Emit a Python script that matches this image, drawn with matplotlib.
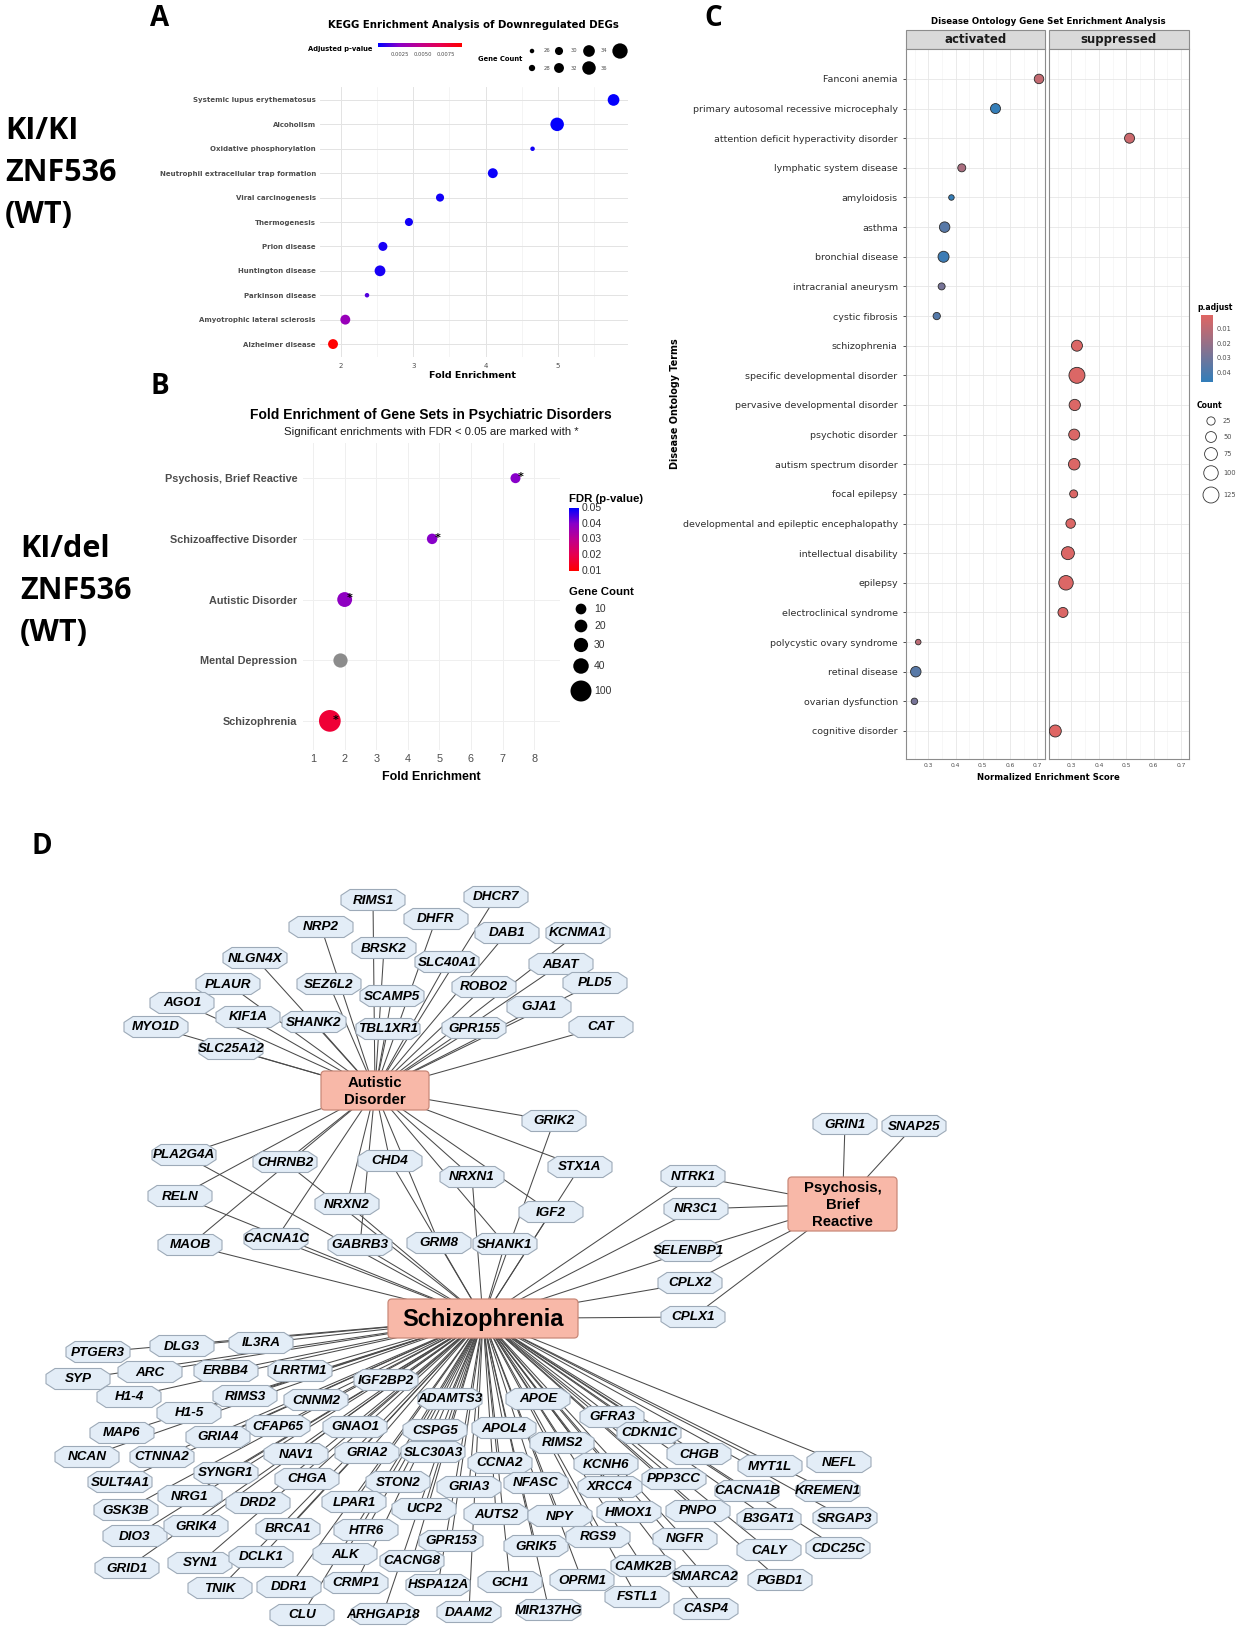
import numpy as np
import matplotlib
matplotlib.use("Agg")
import matplotlib.pyplot as plt
from matplotlib.colors import LinearSegmentedColormap
from matplotlib.patches import Polygon, Rectangle, FancyBboxPatch
from matplotlib.collections import LineCollection
from matplotlib.ticker import MultipleLocator

W, H = 1243, 1637

# ---------------- data ----------------
# A: KEGG enrichment (top to bottom)
kegg_terms = ["Systemic lupus erythematosus", "Alcoholism", "Oxidative phosphorylation",
              "Neutrophil extracellular trap formation", "Viral carcinogenesis", "Thermogenesis",
              "Prion disease", "Huntington disease", "Parkinson disease",
              "Amyotrophic lateral sclerosis", "Alzheimer disease"]
kegg_fold = [5.77, 4.99, 4.65, 4.10, 3.37, 2.94, 2.58, 2.54, 2.36, 2.06, 1.89]
kegg_count = [34, 36, 26, 32, 30, 30, 31, 33, 26, 32, 32]
kegg_padj = [0.0002, 0.0002, 0.0004, 0.0003, 0.0004, 0.0004, 0.0005, 0.0005, 0.0015, 0.0030, 0.0093]
kegg_legend_counts = [26, 28, 30, 32, 34, 36]
kegg_cbar_ticks = [0.0025, 0.0050, 0.0075]

# B: psychiatric disorders (top to bottom)
psy_terms = ["Psychosis, Brief Reactive", "Schizoaffective Disorder", "Autistic Disorder",
             "Mental Depression", "Schizophrenia"]
psy_fold = [7.41, 4.77, 2.00, 1.86, 1.53]
psy_count = [7, 9, 35, 30, 110]
psy_fdr = [0.040, 0.040, 0.039, np.nan, 0.017]
psy_sig = [True, True, True, False, True]
psy_legend_counts = [10, 20, 30, 40, 100]
psy_cbar_ticks = [0.05, 0.04, 0.03, 0.02, 0.01]

# C: Disease Ontology GSEA (top to bottom)
do_terms = ["Fanconi anemia", "primary autosomal recessive microcephaly",
            "attention deficit hyperactivity disorder", "lymphatic system disease", "amyloidosis",
            "asthma", "bronchial disease", "intracranial aneurysm", "cystic fibrosis", "schizophrenia",
            "specific developmental disorder", "pervasive developmental disorder", "psychotic disorder",
            "autism spectrum disorder", "focal epilepsy", "developmental and epileptic encephalopathy",
            "intellectual disability", "epilepsy", "electroclinical syndrome",
            "polycystic ovary syndrome", "retinal disease", "ovarian dysfunction", "cognitive disorder"]
do_group = ["activated", "activated", "suppressed", "activated", "activated", "activated",
            "activated", "activated", "activated", "suppressed", "suppressed", "suppressed",
            "suppressed", "suppressed", "suppressed", "suppressed", "suppressed", "suppressed",
            "suppressed", "activated", "activated", "activated", "suppressed"]
do_nes = [0.707, 0.547, 0.512, 0.423, 0.385, 0.360, 0.356, 0.349, 0.331, 0.320, 0.320, 0.312,
          0.310, 0.310, 0.308, 0.297, 0.287, 0.280, 0.269, 0.263, 0.254, 0.249, 0.241]
do_count = [36, 41, 41, 23, 8, 46, 52, 16, 18, 52, 125, 55, 52, 58, 23, 36, 77, 100, 41, 8, 46, 13, 64]
do_padj = [0.008, 0.045, 0.006, 0.015, 0.045, 0.036, 0.043, 0.028, 0.037, 0.002, 0.002, 0.002,
           0.002, 0.002, 0.002, 0.002, 0.002, 0.002, 0.002, 0.010, 0.036, 0.028, 0.001]
do_legend_counts = [25, 50, 75, 100, 125]
do_cbar_ticks = [0.01, 0.02, 0.03, 0.04]

# D: gene-disease network
autism_only = ["RIMS1", "DHCR7", "NRP2", "DHFR", "DAB1", "KCNMA1", "BRSK2", "NLGN4X", "SLC40A1",
               "ABAT", "PLAUR", "SEZ6L2", "SCAMP5", "ROBO2", "PLD5", "AGO1", "KIF1A", "SHANK2",
               "TBL1XR1", "GPR155", "GJA1", "CAT", "MYO1D", "SLC25A12"]
autism_scz = ["GRIK2", "PLA2G4A", "CHRNB2", "CHD4", "STX1A", "NRXN1", "RELN", "NRXN2", "IGF2",
              "MAOB", "CACNA1C", "GABRB3", "GRM8", "SHANK1"]
psych_only = ["GRIN1", "SNAP25"]
psych_scz = ["NTRK1", "NR3C1", "SELENBP1", "CPLX2", "CPLX1"]
scz_only = ["PTGER3", "DLG3", "IL3RA", "SYP", "ARC", "ERBB4", "LRRTM1", "IGF2BP2", "H1-4", "RIMS3",
            "CNNM2", "ADAMTS3", "APOE", "H1-5", "GFRA3", "MAP6", "CFAP65", "GNAO1", "CSPG5", "APOL4",
            "GRIA4", "RIMS2", "CDKN1C", "NCAN", "CTNNA2", "NAV1", "GRIA2", "SLC30A3", "CCNA2",
            "KCNH6", "CHGB", "MYT1L", "NEFL", "SULT4A1", "SYNGR1", "CHGA", "STON2", "GRIA3",
            "NFASC", "XRCC4", "PPP3CC", "CACNA1B", "KREMEN1", "GSK3B", "NRG1", "DRD2", "LPAR1",
            "UCP2", "AUTS2", "NPY", "HMOX1", "PNPO", "B3GAT1", "SRGAP3", "DIO3", "GRIK4", "BRCA1",
            "HTR6", "GPR153", "GRIK5", "RGS9", "NGFR", "CALY", "CDC25C", "GRID1", "SYN1", "DCLK1",
            "ALK", "CACNG8", "CAMK2B", "SMARCA2", "PGBD1", "TNIK", "DDR1", "CRMP1", "HSPA12A",
            "GCH1", "OPRM1", "FSTL1", "CASP4", "CLU", "ARHGAP18", "DAAM2", "MIR137HG"]

# ---------------- layout (pixel positions of the network drawing) ----------------
hub_box = {"Autistic\nDisorder": (321, 1071, 429, 1110),
           "Psychosis,\nBrief\nReactive": (788, 1177, 897, 1231),
           "Schizophrenia": (388, 1299, 578, 1338)}
node_xy = {
    "RIMS1": (373, 900), "DHCR7": (496, 897), "NRP2": (321, 927), "DHFR": (436, 919),
    "DAB1": (507, 933), "KCNMA1": (578, 933), "BRSK2": (384, 948), "NLGN4X": (255, 958),
    "SLC40A1": (447, 962), "ABAT": (561, 964), "PLAUR": (228, 984), "SEZ6L2": (329, 984),
    "SCAMP5": (392, 996), "ROBO2": (484, 987), "PLD5": (595, 983), "AGO1": (182, 1003),
    "KIF1A": (248, 1017), "SHANK2": (314, 1022), "TBL1XR1": (388, 1029), "GPR155": (474, 1028),
    "GJA1": (539, 1007), "CAT": (601, 1027), "MYO1D": (156, 1027), "SLC25A12": (231, 1049),
    "GRIK2": (554, 1121), "PLA2G4A": (184, 1155), "CHRNB2": (285, 1162), "CHD4": (390, 1161),
    "STX1A": (580, 1167), "NRXN1": (472, 1177), "RELN": (180, 1196), "NRXN2": (347, 1204),
    "IGF2": (551, 1212), "MAOB": (190, 1245), "CACNA1C": (276, 1239), "GABRB3": (360, 1245),
    "GRM8": (439, 1243), "SHANK1": (505, 1244),
    "GRIN1": (845, 1124), "SNAP25": (914, 1126),
    "NTRK1": (693, 1176), "NR3C1": (696, 1209), "SELENBP1": (688, 1251), "CPLX2": (690, 1283),
    "CPLX1": (693, 1317),
    "PTGER3": (98, 1352), "DLG3": (182, 1346), "IL3RA": (261, 1343), "SYP": (78, 1379),
    "ARC": (150, 1372), "ERBB4": (226, 1371), "LRRTM1": (300, 1371), "IGF2BP2": (386, 1380),
    "H1-4": (129, 1397), "RIMS3": (245, 1396), "CNNM2": (316, 1400), "ADAMTS3": (450, 1399),
    "APOE": (538, 1399), "H1-5": (189, 1413), "GFRA3": (612, 1417), "MAP6": (122, 1433),
    "CFAP65": (278, 1426), "GNAO1": (355, 1427), "CSPG5": (435, 1430), "APOL4": (504, 1428),
    "GRIA4": (218, 1437), "RIMS2": (562, 1443), "CDKN1C": (649, 1433), "NCAN": (87, 1457),
    "CTNNA2": (162, 1457), "NAV1": (296, 1454), "GRIA2": (367, 1453), "SLC30A3": (433, 1452),
    "CCNA2": (500, 1463), "KCNH6": (606, 1464), "CHGB": (699, 1454), "MYT1L": (770, 1466),
    "NEFL": (839, 1462), "SULT4A1": (120, 1482), "SYNGR1": (226, 1473), "CHGA": (307, 1479),
    "STON2": (398, 1482), "GRIA3": (469, 1487), "NFASC": (536, 1483), "XRCC4": (610, 1487),
    "PPP3CC": (674, 1479), "CACNA1B": (747, 1491), "KREMEN1": (828, 1491), "GSK3B": (126, 1510),
    "NRG1": (190, 1496), "DRD2": (258, 1503), "LPAR1": (354, 1502), "UCP2": (424, 1509),
    "AUTS2": (496, 1514), "NPY": (560, 1516), "HMOX1": (629, 1512), "PNPO": (698, 1511),
    "B3GAT1": (769, 1519), "SRGAP3": (845, 1518), "DIO3": (135, 1536), "GRIK4": (196, 1526),
    "BRCA1": (288, 1529), "HTR6": (366, 1530), "GPR153": (451, 1541), "GRIK5": (536, 1546),
    "RGS9": (598, 1537), "NGFR": (685, 1539), "CALY": (769, 1550), "CDC25C": (838, 1548),
    "GRID1": (127, 1568), "SYN1": (200, 1563), "DCLK1": (261, 1557), "ALK": (345, 1554),
    "CACNG8": (412, 1561), "CAMK2B": (643, 1566), "SMARCA2": (705, 1576), "PGBD1": (780, 1580),
    "TNIK": (220, 1588), "DDR1": (289, 1587), "CRMP1": (356, 1583), "HSPA12A": (438, 1585),
    "GCH1": (510, 1582), "OPRM1": (582, 1580), "FSTL1": (637, 1597), "CASP4": (706, 1609),
    "CLU": (302, 1615), "ARHGAP18": (383, 1614), "DAAM2": (469, 1612), "MIR137HG": (549, 1610),
}

# ---------------- helpers ----------------
cmap_br = LinearSegmentedColormap.from_list(
    "br", ["#0000FF", "#8A00C8", "#C0008E", "#E8004E", "#FF0000"])
cmap_do = LinearSegmentedColormap.from_list("do", ["#e06663", "#327eba"])


def place(x0, y0, x1, y1):
    return fig.add_axes([x0 / W, 1 - y1 / H, (x1 - x0) / W, (y1 - y0) / H])


def px_to_s(d):
    return (np.asarray(d, dtype=float) * 0.72) ** 2


def size_a(c):
    return px_to_s(4.5 + (np.asarray(c) - 26) * 0.9)


def size_b(c):
    return px_to_s(6 + 1.5 * np.sqrt(c))


def size_c(c):
    return px_to_s(2 + 1.25 * np.sqrt(c))


def octagon(cx, cy, w=64, h=21, c=9):
    hw, hh, q = w / 2, h / 2, h * 0.22
    return [(cx - hw + c, cy - hh), (cx + hw - c, cy - hh), (cx + hw, cy - q), (cx + hw, cy + q),
            (cx + hw - c, cy + hh), (cx - hw + c, cy + hh), (cx - hw, cy + q), (cx - hw, cy - q)]


fig = plt.figure(figsize=(W / 100, H / 100), dpi=100)
ov = fig.add_axes([0, 0, 1, 1])
ov.axis("off")

BIG = ["Open Sans", "DejaVu Sans"]
ARIAL = ["Liberation Sans", "DejaVu Sans"]

# panel letters and genotype labels
for lab, (x, y) in {"A": (160, 18), "B": (160, 386), "C": (713, 18), "D": (42, 847)}.items():
    ov.text(x, y, lab, fontsize=20, fontweight="bold", family=BIG, ha="center", va="center")
for i, line in enumerate(["KI/KI", "ZNF536", "(WT)"]):
    ov.text(5, 131 + i * 42, line, fontsize=22, fontweight="bold", family=BIG, va="center")
for i, line in enumerate(["KI/del", "ZNF536", "(WT)"]):
    ov.text(20, 549 + i * 42, line, fontsize=22, fontweight="bold", family=BIG, va="center")

# ---------------- panel A ----------------
ax = place(320, 87, 628, 357)
ya = np.arange(len(kegg_terms))[::-1] + 1
a_vmin, a_vmax = 0.0001, 0.0093
ax.scatter(kegg_fold, ya, s=size_a(kegg_count), c=kegg_padj, cmap=cmap_br,
           vmin=a_vmin, vmax=a_vmax, linewidths=0, zorder=3)
ax.set_xlim(1.71, 5.97)
ax.set_ylim(0.47, 11.53)
ax.set_yticks(ya)
ax.set_yticklabels(kegg_terms, fontsize=7.5, fontweight="bold", color="#4D4D4D")
ax.set_xticks([2, 3, 4, 5])
ax.xaxis.set_minor_locator(MultipleLocator(0.5))
ax.tick_params(which="both", length=0, labelsize=5, colors="#4D4D4D")
ax.tick_params(axis="y", pad=3)
ax.tick_params(axis="x", pad=4)
ax.grid(True, which="major", color="#E3E3E3", lw=0.7)
ax.grid(True, which="minor", axis="x", color="#F0F0F0", lw=0.5)
ax.set_axisbelow(True)
for s in ax.spines.values():
    s.set_visible(False)
ov.text(473, 25, "KEGG Enrichment Analysis of Downregulated DEGs", fontsize=7.3,
        fontweight="bold", ha="center", va="center")
ov.text(473, 376, "Fold Enrichment", fontsize=6.8, fontweight="bold", ha="center", va="center")
ov.text(308, 49, "Adjusted p-value", fontsize=4.9, fontweight="bold", va="center")
ov.imshow(np.linspace(0, 1, 256)[None, :], extent=(378, 462, 47.5, 43.5), cmap=cmap_br,
          aspect="auto", zorder=2)
for t in kegg_cbar_ticks:
    ov.text(378 + (t - a_vmin) / (a_vmax - a_vmin) * 84, 54, f"{t:.4f}", fontsize=3.8,
            color="#4D4D4D", ha="center", va="center")
ov.text(500, 59, "Gene Count", fontsize=4.9, fontweight="bold", ha="center", va="center")
leg_x = [532, 532, 559, 559, 589, 589]
leg_y = [51, 68, 51, 68, 51, 68]
ov.scatter(leg_x + [620], leg_y + [51], s=size_a(kegg_legend_counts + [38]), c="black",
           linewidths=0, zorder=3)
for c, x, y in zip(kegg_legend_counts, leg_x, leg_y):
    ov.text(x + 12, y, str(c), fontsize=3.8, color="#4D4D4D", va="center")

# ---------------- panel B ----------------
ax = place(303, 443, 560, 750)
yb = np.arange(len(psy_terms))[::-1] + 1
fdr = np.array(psy_fdr)
ok = ~np.isnan(fdr)
ax.scatter(np.array(psy_fold)[ok], yb[ok], s=size_b(np.array(psy_count)[ok]), c=fdr[ok],
           cmap=cmap_br.reversed(), vmin=0.01, vmax=0.05, linewidths=0, zorder=3)
ax.scatter(np.array(psy_fold)[~ok], yb[~ok], s=size_b(np.array(psy_count)[~ok]), c="#8C8C8C",
           linewidths=0, zorder=3)
for f, y, sig in zip(psy_fold, yb, psy_sig):
    if sig:
        ax.text(f + 0.17, y + 0.02, "*", fontsize=8, fontweight="bold", ha="center",
                va="center", zorder=4)
ax.set_xlim(0.68, 8.82)
ax.set_ylim(0.52, 5.58)
ax.set_yticks(yb)
ax.set_yticklabels(psy_terms, fontsize=8, fontweight="bold", color="#4D4D4D", family=ARIAL)
ax.set_xticks(range(1, 9))
for lab in ax.get_xticklabels():
    lab.set_family(ARIAL)
ax.tick_params(length=0, labelsize=7.8, colors="#4D4D4D")
ax.tick_params(axis="y", pad=4)
ax.tick_params(axis="x", pad=3)
ax.grid(True, color="#EFEFEF", lw=0.7)
ax.set_axisbelow(True)
for s in ax.spines.values():
    s.set_visible(False)
ov.text(431, 415, "Fold Enrichment of Gene Sets in Psychiatric Disorders", fontsize=10,
        fontweight="bold", family=ARIAL, ha="center", va="center")
ov.text(431, 432, "Significant enrichments with FDR < 0.05 are marked with *", fontsize=8.2,
        family=ARIAL, ha="center", va="center", color="#1A1A1A")
ov.text(431, 777, "Fold Enrichment", fontsize=9, fontweight="bold", family=ARIAL,
        ha="center", va="center")
ov.text(569, 499, "FDR (p-value)", fontsize=8.2, fontweight="bold", family=ARIAL, va="center")
ov.imshow(np.linspace(0.05, 0.01, 256)[:, None], extent=(569, 579, 571, 508),
          cmap=cmap_br.reversed(), vmin=0.01, vmax=0.05, aspect="auto", zorder=2)
for t in psy_cbar_ticks:
    ov.text(582, 508 + (0.05 - t) / 0.04 * 63, f"{t:.2f}", fontsize=7.5, family=ARIAL,
            color="#333333", va="center")
ov.text(569, 592, "Gene Count", fontsize=8.2, fontweight="bold", family=ARIAL, va="center")
gy = [609, 626, 645, 666, 691]
ov.scatter([581] * len(gy), gy, s=size_b(psy_legend_counts), c="black", linewidths=0, zorder=3)
for c, y in zip(psy_legend_counts, gy):
    ov.text(594, y, str(c), fontsize=7.5, family=ARIAL, color="#333333", va="center")

# ---------------- panel C ----------------
n_do = len(do_terms)
yc = np.arange(n_do)[::-1] + 1
grp = np.array(do_group)
c_vmin, c_vmax = 0.0005, 0.046
boxes = {"activated": (906, 1045), "suppressed": (1049, 1189)}
for k, name in enumerate(["activated", "suppressed"]):
    x0, x1 = boxes[name]
    ax = place(x0, 49, x1, 759)
    m = grp == name
    ax.scatter(np.array(do_nes)[m], yc[m], s=size_c(np.array(do_count)[m]),
               c=np.array(do_padj)[m], cmap=cmap_do, vmin=c_vmin, vmax=c_vmax,
               edgecolors="#2B2B2B", linewidths=0.6, zorder=3)
    ax.set_xlim(0.218, 0.729)
    ax.set_ylim(0.055, n_do + 1.01)
    ax.set_xticks([0.3, 0.4, 0.5, 0.6, 0.7])
    ax.xaxis.set_minor_locator(MultipleLocator(0.05))
    ax.set_yticks(yc)
    ax.grid(True, which="major", color="#E6E6E6", lw=0.6)
    ax.grid(True, which="minor", axis="x", color="#F2F2F2", lw=0.4)
    ax.set_axisbelow(True)
    ax.tick_params(axis="x", which="both", length=0, labelsize=4.3, colors="#4D4D4D", pad=3)
    for s in ax.spines.values():
        s.set_color("#8C8C8C")
        s.set_linewidth(0.8)
    if k == 0:
        ax.set_yticklabels(do_terms, fontsize=6.8, color="#2E2E2E")
        ax.tick_params(axis="y", length=2, width=0.6, color="#333333", pad=4)
    else:
        ax.tick_params(axis="y", length=0, labelleft=False)
    ov.add_patch(Rectangle((x0, 30), x1 - x0, 19, facecolor="#D9D9D9", edgecolor="#8C8C8C",
                           lw=0.8, zorder=2))
    ov.text((x0 + x1) / 2, 39.5, name, fontsize=8.5, fontweight="bold", color="#1A1A1A",
            ha="center", va="center", zorder=3)
ov.text(1048, 21, "Disease Ontology Gene Set Enrichment Analysis", fontsize=6.2,
        fontweight="bold", ha="center", va="center")
ov.text(1048, 777, "Normalized Enrichment Score", fontsize=6.1, fontweight="bold",
        ha="center", va="center")
ov.text(675, 404, "Disease Ontology Terms", fontsize=6.9, fontweight="bold", rotation=90,
        ha="center", va="center")
ov.text(1197, 307, "p.adjust", fontsize=5.5, fontweight="bold", va="center")
ov.imshow(np.linspace(c_vmin, c_vmax, 256)[:, None], extent=(1201, 1213, 382, 315),
          cmap=cmap_do, vmin=c_vmin, vmax=c_vmax, aspect="auto", zorder=2)
for t in do_cbar_ticks:
    ov.text(1217, 315 + (t - c_vmin) / (c_vmax - c_vmin) * 67, f"{t:.2f}", fontsize=4.8,
            color="#4D4D4D", va="center")
ov.text(1197, 406, "Count", fontsize=5.5, fontweight="bold", va="center")
cy_leg = [421, 437, 454, 473, 495]
ov.scatter([1211] * 5, cy_leg, s=size_c(do_legend_counts), facecolors="none",
           edgecolors="#333333", linewidths=0.6, zorder=3)
for c, y in zip(do_legend_counts, cy_leg):
    ov.text(1223, y, str(c), fontsize=4.8, color="#4D4D4D", va="center")

# ---------------- panel D: network ----------------
hub_c = {k: ((b[0] + b[2]) / 2, (b[1] + b[3]) / 2) for k, b in hub_box.items()}
AUT, PSY, SCZ = list(hub_box.keys())
edges = []
for g in autism_only:
    edges.append((g, AUT))
for g in autism_scz:
    edges += [(g, AUT), (g, SCZ)]
for g in psych_only:
    edges.append((g, PSY))
for g in psych_scz:
    edges += [(g, PSY), (g, SCZ)]
for g in scz_only:
    edges.append((g, SCZ))
segs = [[node_xy[g], hub_c[h]] for g, h in edges]
ov.add_collection(LineCollection(segs, colors="#4A4A4A", linewidths=0.75, zorder=1))

for g in autism_only + autism_scz + psych_only + psych_scz + scz_only:
    x, y = node_xy[g]
    ov.add_patch(Polygon(octagon(x, y), closed=True, facecolor="#E3EDF7", edgecolor="#9DAAB8",
                         lw=0.8, zorder=2))
    ov.text(x, y + 0.5, g, fontsize=9.7, fontweight="bold", style="italic", family=ARIAL,
            ha="center", va="center", zorder=3)

hub_fs = {AUT: 10.8, PSY: 10.7, SCZ: 17}
for name, (x0, y0, x1, y1) in hub_box.items():
    ov.add_patch(FancyBboxPatch((x0, y0), x1 - x0, y1 - y0,
                                boxstyle="round,pad=0,rounding_size=4", facecolor="#F8B8A8",
                                edgecolor="#C98979", lw=0.9, zorder=4))
    ov.text((x0 + x1) / 2, (y0 + y1) / 2 + 1, name, fontsize=hub_fs[name], fontweight="bold",
            family=ARIAL, ha="center", va="center", linespacing=1.25, zorder=5)

ov.set_xlim(0, W)
ov.set_ylim(H, 0)
fig.savefig("out.png", dpi=100)
